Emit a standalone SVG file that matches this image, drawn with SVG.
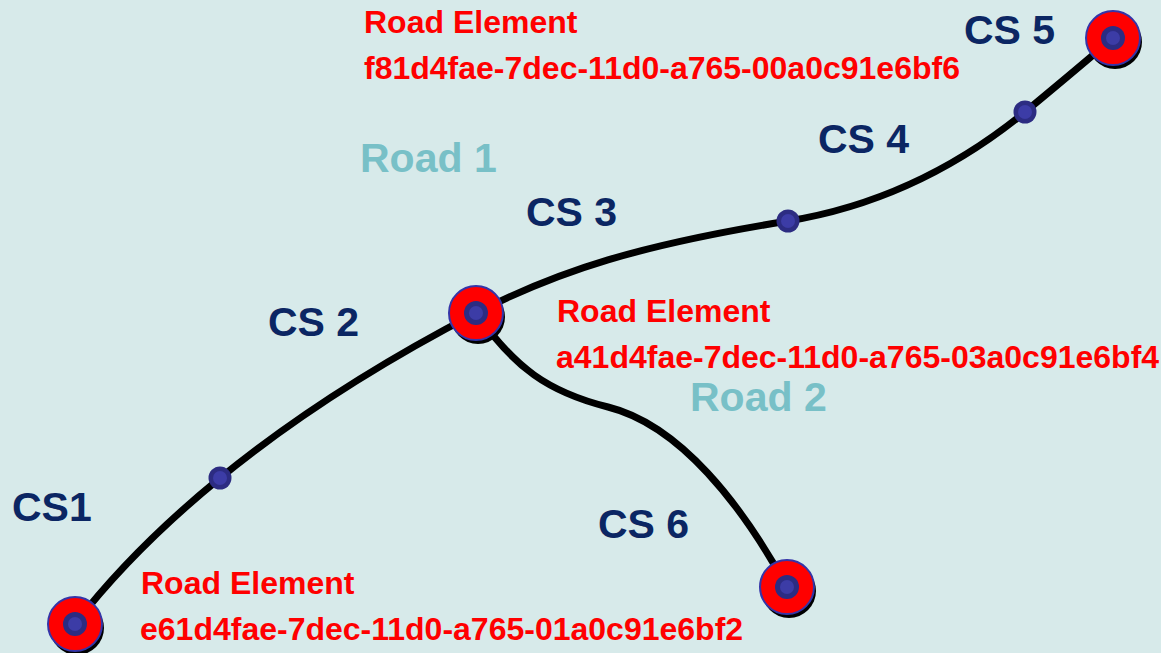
<svg xmlns="http://www.w3.org/2000/svg" width="1161" height="653" viewBox="0 0 1161 653">
<style>
.road{fill:none;stroke:#000;stroke-width:7;stroke-linecap:round}
.cs{font-family:"Liberation Sans",Arial,sans-serif;font-weight:bold;font-size:41px;fill:#0b2663}
.rn{font-family:"Liberation Sans",Arial,sans-serif;font-weight:bold;font-size:41px;fill:#78c0c7}
.re{font-family:"Liberation Sans",Arial,sans-serif;font-weight:bold;font-size:32px;fill:#ff0000}
.shadow{fill:#000}
.outer{fill:#ff0000;stroke:#3535a8;stroke-width:2}
.inner{fill:#2c2c82}
.core{fill:#3c3ca6}
</style>
<defs>
<g id="bignode">
<circle class="shadow" cx="2" cy="4" r="27"/>
<circle class="outer" cx="0" cy="0" r="27"/>
<circle class="inner" cx="0" cy="0" r="12"/>
<circle class="core" cx="0" cy="0" r="7"/>
</g>
<g id="smallnode">
<circle class="inner" cx="0" cy="0" r="11.5"/>
<circle class="core" cx="0" cy="0" r="7"/>
</g>
</defs>
<rect width="1161" height="653" fill="#d7eaea"/>
<g id="connectors">
<path class="road" d="M75,624 C140,540 260,425 476,313 C560,270 640,245 788,221 C880,206 960,165 1025,112 C1060,83 1090,58 1113,38"/>
<path class="road" d="M476,313 C515,368 548,392 608,407 C680,425 742,505 787,587"/>
</g>
<g id="node-cs1"><use href="#bignode" x="75" y="624"/></g>
<g id="node-cs2"><use href="#smallnode" x="220" y="478"/></g>
<g id="node-junction"><use href="#bignode" x="476" y="313"/></g>
<g id="node-cs3"><use href="#smallnode" x="788" y="221"/></g>
<g id="node-cs4"><use href="#smallnode" x="1025" y="112"/></g>
<g id="node-cs5"><use href="#bignode" x="1113" y="38"/></g>
<g id="node-cs6"><use href="#bignode" x="787" y="587"/></g>
<g id="labels">
<text class="re" x="364" y="33">Road Element</text>
<text class="re" x="364" y="79">f81d4fae-7dec-11d0-a765-00a0c91e6bf6</text>
<text class="cs" x="964" y="44">CS 5</text>
<text class="rn" x="360" y="172">Road 1</text>
<text class="cs" x="818" y="153">CS 4</text>
<text class="cs" x="526" y="226">CS 3</text>
<text class="cs" x="268" y="336">CS 2</text>
<text class="re" x="557" y="322">Road Element</text>
<text class="re" x="556" y="368">a41d4fae-7dec-11d0-a765-03a0c91e6bf4</text>
<text class="rn" x="690" y="411">Road 2</text>
<text class="cs" x="12" y="521">CS1</text>
<text class="cs" x="598" y="538">CS 6</text>
<text class="re" x="141" y="594">Road Element</text>
<text class="re" x="140" y="640">e61d4fae-7dec-11d0-a765-01a0c91e6bf2</text>
</g>
</svg>
